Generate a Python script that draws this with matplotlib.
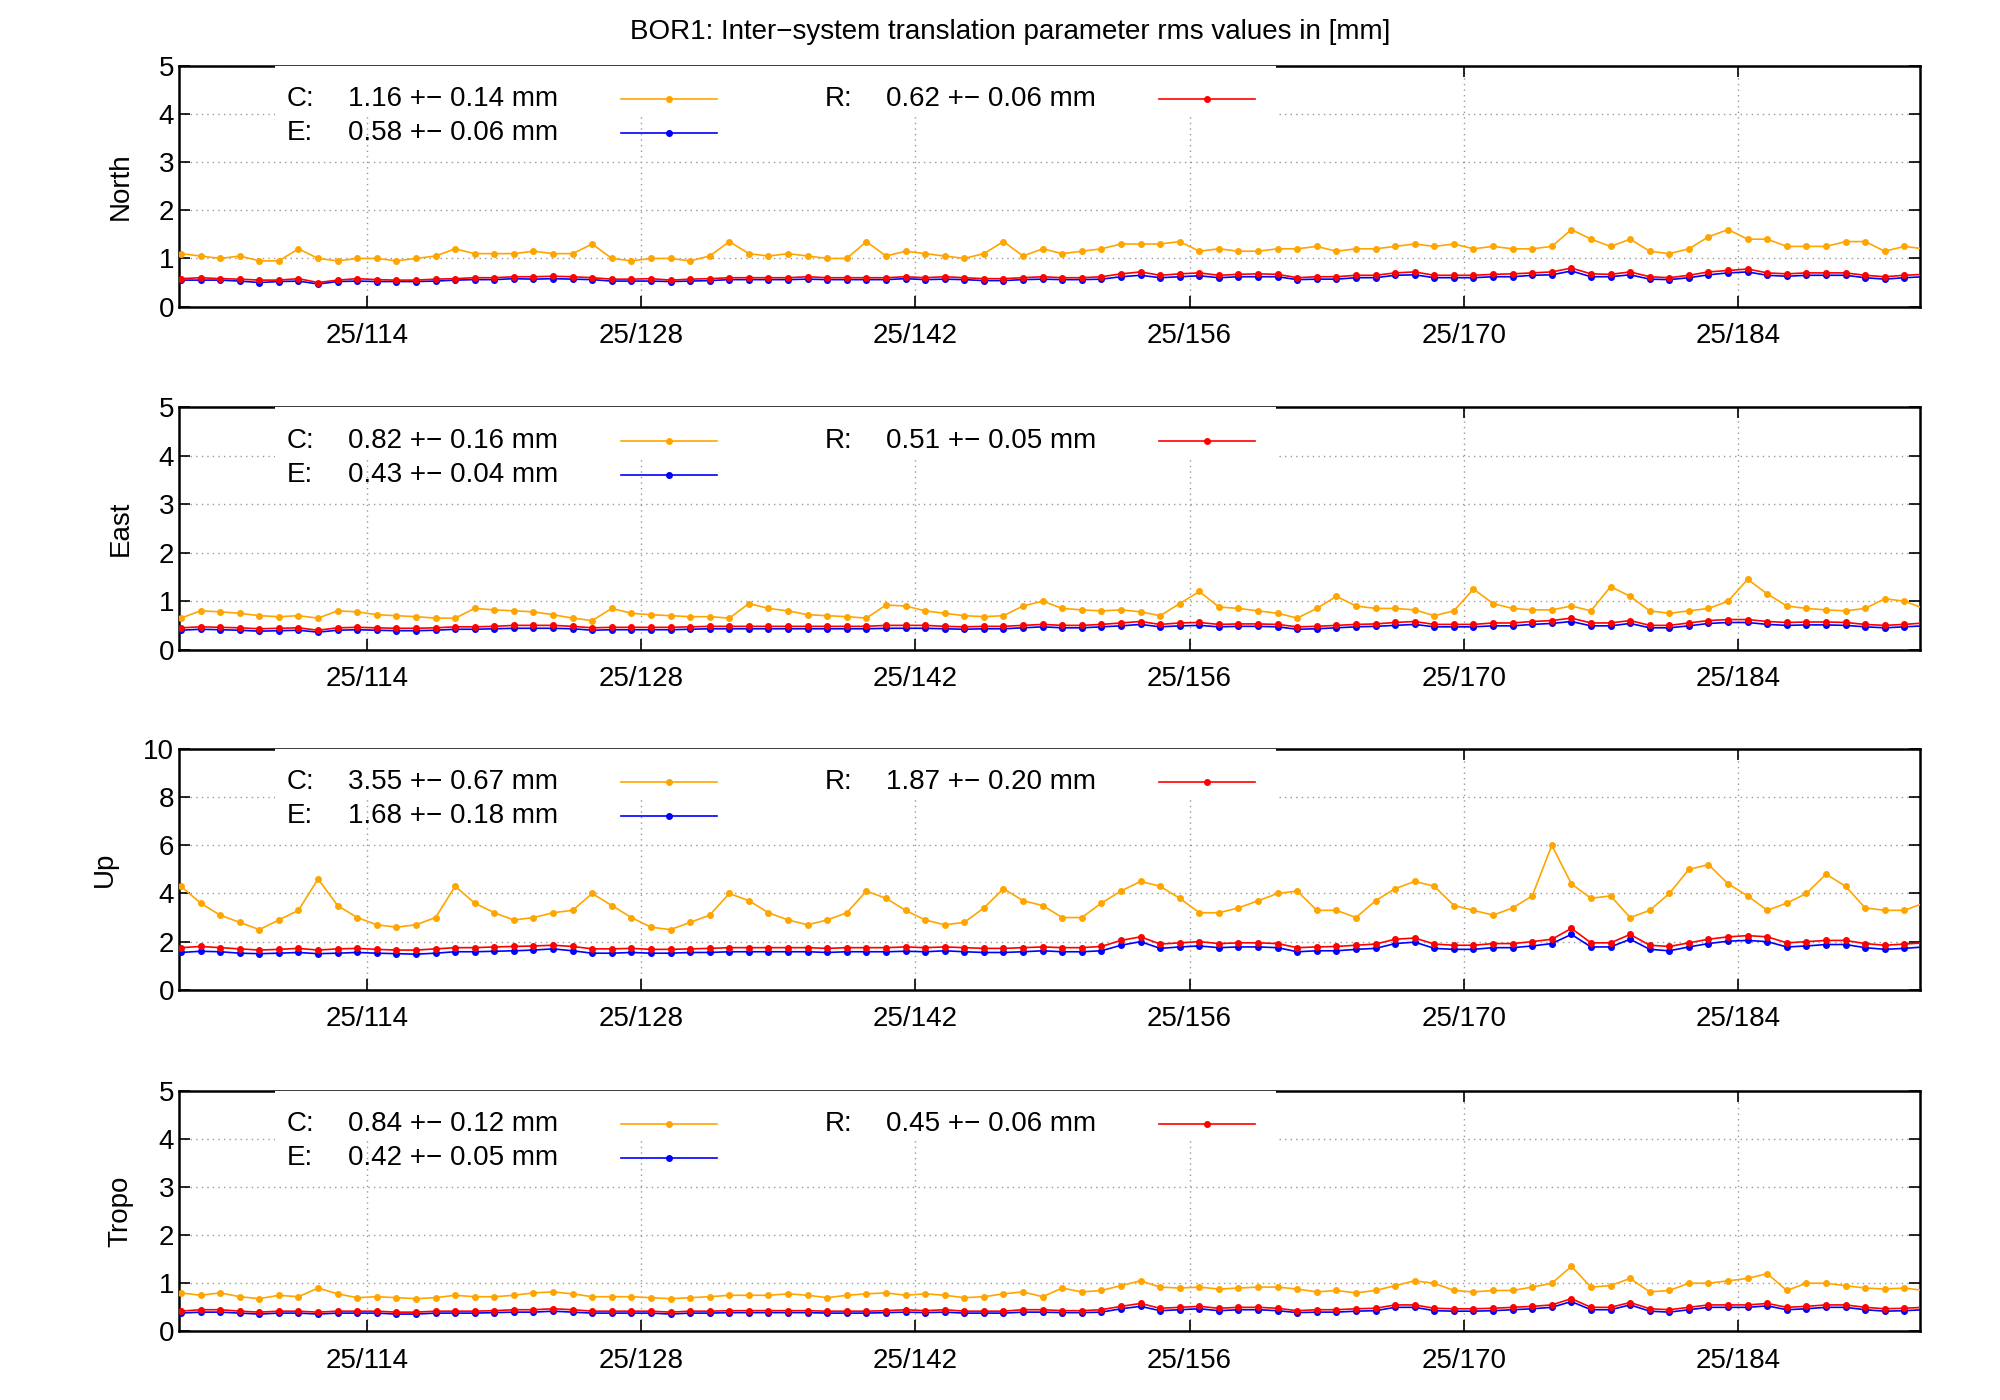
import numpy as np
import matplotlib
matplotlib.use("Agg")
import matplotlib.pyplot as plt
from matplotlib.patches import Rectangle

plt.rcParams["font.family"] = "Liberation Sans"

title = "BOR1: Inter\u2212system translation parameter rms values in [mm]"
panels = ["North", "East", "Up", "Tropo"]
tick_days = [114, 128, 142, 156, 170, 184]
tick_labels = ["25/114", "25/128", "25/142", "25/156", "25/170", "25/184"]
ylims = [5, 5, 10, 5]
stats = {
    "North": ("1.16 +\u2212 0.14 mm", "0.58 +\u2212 0.06 mm", "0.62 +\u2212 0.06 mm"),
    "East": ("0.82 +\u2212 0.16 mm", "0.43 +\u2212 0.04 mm", "0.51 +\u2212 0.05 mm"),
    "Up": ("3.55 +\u2212 0.67 mm", "1.68 +\u2212 0.18 mm", "1.87 +\u2212 0.20 mm"),
    "Tropo": ("0.84 +\u2212 0.12 mm", "0.42 +\u2212 0.05 mm", "0.45 +\u2212 0.06 mm"),
}

north_C = [1.1,1.05,1.0,1.05,0.95,0.95,1.2,1.0,0.95,1.0,1.0,0.95,1.0,1.05,1.2,1.1,1.1,1.1,1.15,1.1,1.1,1.3,1.0,0.95,1.0,1.0,0.95,1.05,1.35,1.1,1.05,1.1,1.05,1.0,1.0,1.35,1.05,1.15,1.1,1.05,1.0,1.1,1.35,1.05,1.2,1.1,1.15,1.2,1.3,1.3,1.3,1.35,1.15,1.2,1.15,1.15,1.2,1.2,1.25,1.15,1.2,1.2,1.25,1.3,1.25,1.3,1.2,1.25,1.2,1.2,1.25,1.6,1.4,1.25,1.4,1.15,1.1,1.2,1.45,1.6,1.4,1.4,1.25,1.25,1.25,1.35,1.35,1.15,1.25,1.2,1.2]
north_R = [0.58,0.6,0.58,0.57,0.55,0.55,0.58,0.5,0.55,0.58,0.56,0.55,0.55,0.57,0.58,0.6,0.6,0.62,0.62,0.63,0.62,0.6,0.57,0.57,0.58,0.55,0.57,0.58,0.6,0.6,0.6,0.6,0.62,0.6,0.6,0.6,0.6,0.62,0.6,0.62,0.6,0.58,0.58,0.6,0.62,0.6,0.6,0.62,0.68,0.72,0.65,0.68,0.7,0.65,0.67,0.68,0.67,0.6,0.62,0.62,0.65,0.65,0.7,0.72,0.65,0.65,0.65,0.67,0.68,0.7,0.72,0.8,0.68,0.67,0.72,0.62,0.6,0.65,0.72,0.75,0.78,0.7,0.68,0.7,0.7,0.7,0.65,0.62,0.65,0.67,0.68]
north_E = [0.55,0.55,0.55,0.53,0.5,0.52,0.53,0.47,0.52,0.53,0.52,0.52,0.52,0.53,0.55,0.56,0.56,0.58,0.57,0.58,0.57,0.56,0.53,0.53,0.53,0.52,0.53,0.54,0.56,0.56,0.56,0.56,0.57,0.56,0.56,0.56,0.56,0.58,0.56,0.57,0.56,0.54,0.54,0.56,0.57,0.56,0.56,0.57,0.62,0.65,0.6,0.62,0.64,0.6,0.62,0.62,0.62,0.56,0.57,0.57,0.6,0.6,0.65,0.66,0.6,0.6,0.6,0.62,0.62,0.65,0.66,0.74,0.62,0.62,0.66,0.57,0.56,0.6,0.66,0.7,0.72,0.65,0.63,0.65,0.65,0.65,0.6,0.57,0.6,0.62,0.63]

east_C = [0.65,0.8,0.78,0.75,0.7,0.68,0.7,0.65,0.8,0.78,0.72,0.7,0.68,0.65,0.65,0.85,0.82,0.8,0.78,0.72,0.65,0.6,0.85,0.75,0.72,0.7,0.68,0.68,0.65,0.95,0.85,0.8,0.72,0.7,0.68,0.65,0.92,0.9,0.8,0.75,0.7,0.68,0.7,0.9,1.0,0.85,0.82,0.8,0.82,0.78,0.7,0.95,1.2,0.88,0.85,0.8,0.75,0.65,0.85,1.1,0.9,0.85,0.85,0.82,0.7,0.8,1.25,0.95,0.85,0.82,0.82,0.9,0.8,1.3,1.1,0.8,0.75,0.8,0.85,1.0,1.45,1.15,0.9,0.85,0.82,0.8,0.85,1.05,1.0,0.85,0.82]
east_R = [0.45,0.47,0.46,0.45,0.43,0.44,0.45,0.4,0.45,0.46,0.45,0.44,0.44,0.45,0.47,0.47,0.48,0.5,0.5,0.5,0.48,0.45,0.46,0.46,0.46,0.46,0.47,0.48,0.48,0.48,0.48,0.48,0.48,0.48,0.48,0.48,0.5,0.5,0.5,0.48,0.47,0.48,0.48,0.5,0.52,0.5,0.5,0.52,0.55,0.58,0.52,0.55,0.56,0.52,0.53,0.53,0.52,0.47,0.48,0.5,0.52,0.53,0.56,0.58,0.52,0.52,0.52,0.55,0.55,0.58,0.6,0.65,0.55,0.55,0.6,0.5,0.5,0.55,0.6,0.62,0.62,0.58,0.56,0.57,0.57,0.56,0.52,0.5,0.52,0.55,0.56]
east_E = [0.4,0.42,0.41,0.4,0.38,0.39,0.4,0.36,0.4,0.41,0.4,0.39,0.39,0.4,0.42,0.42,0.43,0.44,0.44,0.44,0.43,0.4,0.41,0.41,0.41,0.41,0.42,0.43,0.43,0.43,0.43,0.43,0.43,0.43,0.43,0.43,0.44,0.44,0.44,0.43,0.42,0.43,0.43,0.45,0.47,0.45,0.45,0.47,0.49,0.52,0.47,0.49,0.5,0.47,0.48,0.48,0.47,0.42,0.43,0.45,0.47,0.48,0.5,0.52,0.47,0.47,0.47,0.49,0.49,0.52,0.54,0.58,0.49,0.49,0.54,0.45,0.45,0.49,0.54,0.56,0.56,0.52,0.5,0.51,0.51,0.5,0.47,0.45,0.47,0.49,0.5]

up_C = [4.3,3.6,3.1,2.8,2.5,2.9,3.3,4.6,3.5,3.0,2.7,2.6,2.7,3.0,4.3,3.6,3.2,2.9,3.0,3.2,3.3,4.0,3.5,3.0,2.6,2.5,2.8,3.1,4.0,3.7,3.2,2.9,2.7,2.9,3.2,4.1,3.8,3.3,2.9,2.7,2.8,3.4,4.2,3.7,3.5,3.0,3.0,3.6,4.1,4.5,4.3,3.8,3.2,3.2,3.4,3.7,4.0,4.1,3.3,3.3,3.0,3.7,4.2,4.5,4.3,3.5,3.3,3.1,3.4,3.9,6.0,4.4,3.8,3.9,3.0,3.3,4.0,5.0,5.2,4.4,3.9,3.3,3.6,4.0,4.8,4.3,3.4,3.3,3.3,3.6]
up_R = [1.75,1.8,1.75,1.7,1.65,1.68,1.72,1.65,1.7,1.72,1.68,1.65,1.65,1.7,1.75,1.75,1.78,1.8,1.82,1.85,1.8,1.7,1.7,1.72,1.68,1.68,1.7,1.72,1.75,1.75,1.75,1.75,1.75,1.72,1.75,1.75,1.75,1.78,1.75,1.78,1.75,1.72,1.72,1.75,1.78,1.75,1.75,1.8,2.05,2.2,1.9,1.95,2.0,1.92,1.95,1.95,1.92,1.75,1.78,1.8,1.85,1.9,2.1,2.15,1.9,1.85,1.85,1.92,1.92,2.0,2.1,2.55,1.95,1.95,2.3,1.85,1.8,1.95,2.1,2.2,2.25,2.2,1.95,2.0,2.05,2.05,1.92,1.85,1.9,1.95,2.0]
up_E = [1.55,1.6,1.58,1.52,1.5,1.52,1.55,1.5,1.52,1.55,1.52,1.5,1.48,1.52,1.58,1.58,1.6,1.62,1.65,1.7,1.62,1.52,1.52,1.55,1.52,1.52,1.55,1.55,1.58,1.58,1.58,1.58,1.58,1.55,1.58,1.58,1.58,1.6,1.58,1.62,1.58,1.55,1.55,1.58,1.62,1.58,1.58,1.62,1.85,2.0,1.72,1.78,1.82,1.75,1.78,1.78,1.75,1.58,1.62,1.62,1.68,1.72,1.92,1.98,1.72,1.68,1.68,1.75,1.75,1.82,1.92,2.3,1.78,1.78,2.1,1.68,1.62,1.78,1.92,2.02,2.05,2.0,1.78,1.82,1.88,1.88,1.75,1.68,1.72,1.78,1.85]

tropo_C = [0.8,0.75,0.8,0.72,0.68,0.75,0.72,0.9,0.78,0.7,0.72,0.7,0.68,0.7,0.75,0.72,0.72,0.75,0.8,0.82,0.78,0.72,0.72,0.72,0.7,0.68,0.7,0.72,0.75,0.75,0.75,0.78,0.75,0.7,0.75,0.78,0.8,0.75,0.78,0.75,0.7,0.72,0.78,0.82,0.72,0.9,0.82,0.85,0.95,1.05,0.92,0.9,0.92,0.88,0.9,0.92,0.92,0.88,0.82,0.85,0.8,0.85,0.95,1.05,1.0,0.85,0.82,0.85,0.85,0.92,1.0,1.35,0.92,0.95,1.1,0.82,0.85,1.0,1.0,1.05,1.1,1.2,0.85,1.0,1.0,0.95,0.9,0.88,0.9,0.85,0.95]
tropo_R = [0.42,0.45,0.45,0.42,0.4,0.42,0.42,0.4,0.42,0.42,0.42,0.4,0.4,0.42,0.42,0.42,0.43,0.45,0.45,0.47,0.45,0.42,0.42,0.42,0.42,0.4,0.42,0.42,0.43,0.43,0.43,0.43,0.43,0.42,0.42,0.42,0.43,0.45,0.43,0.45,0.42,0.42,0.42,0.45,0.45,0.43,0.43,0.45,0.52,0.58,0.48,0.5,0.52,0.48,0.5,0.5,0.48,0.43,0.45,0.45,0.47,0.48,0.55,0.55,0.48,0.47,0.47,0.48,0.5,0.52,0.55,0.68,0.5,0.5,0.6,0.47,0.45,0.5,0.55,0.55,0.55,0.58,0.5,0.52,0.55,0.55,0.5,0.47,0.48,0.5,0.52]
tropo_E = [0.38,0.4,0.4,0.38,0.36,0.38,0.38,0.36,0.38,0.38,0.38,0.36,0.36,0.38,0.38,0.38,0.39,0.4,0.4,0.42,0.4,0.38,0.38,0.38,0.38,0.36,0.38,0.38,0.39,0.39,0.39,0.39,0.39,0.38,0.38,0.38,0.39,0.4,0.39,0.4,0.38,0.38,0.38,0.4,0.4,0.39,0.39,0.4,0.47,0.52,0.43,0.45,0.47,0.43,0.45,0.45,0.43,0.39,0.4,0.4,0.42,0.43,0.5,0.5,0.43,0.42,0.42,0.43,0.45,0.47,0.5,0.62,0.45,0.45,0.55,0.42,0.4,0.45,0.5,0.5,0.5,0.53,0.45,0.47,0.5,0.5,0.45,0.42,0.43,0.45,0.47]

series = {
    "North": (north_C, north_E, north_R),
    "East": (east_C, east_E, east_R),
    "Up": (up_C, up_E, up_R),
    "Tropo": (tropo_C, tropo_E, tropo_R),
}

ORANGE, BLUE, RED = "#FFA500", "#0000FF", "#FF0000"
fig = plt.figure(figsize=(20, 14), dpi=100)
fig.text(0.505, 0.977, title, ha="center", va="center", fontsize=20)
rects = [(0.953, 0.781), (0.709, 0.536), (0.465, 0.293), (0.221, 0.049)]
L, R_ = 0.0895, 0.96
for name, (top, bot), ymax in zip(panels, rects, ylims):
    ax = fig.add_axes([L, bot, R_ - L, top - bot])
    C, E, Rr = series[name]
    n = min(len(C), len(E), len(Rr))
    days = np.arange(n) + 104.5
    ax.plot(days, C[:n], color=ORANGE, lw=1.2, marker="o", ms=4, zorder=3)
    ax.plot(days, E[:n], color=BLUE, lw=1.2, marker="o", ms=4, zorder=3)
    ax.plot(days, Rr[:n], color=RED, lw=1.2, marker="o", ms=4, zorder=3)
    ax.set_xlim(104.4, 193.3)
    ax.set_ylim(0, ymax)
    ax.set_yticks(np.arange(0, ymax + 0.1, 1 if ymax == 5 else 2))
    ax.set_xticks(tick_days)
    ax.set_xticklabels(tick_labels)
    ax.tick_params(labelsize=20, direction="in", length=8, width=1.2, top=True, right=True)
    ax.tick_params(axis="x", pad=12)
    ax.grid(True, color="#999999", linestyle=(0, (1, 3)), lw=1)
    for s in ax.spines.values():
        s.set_linewidth(1.8)
    ax.set_ylabel(name, fontsize=20, labelpad=18)
    ax.add_patch(Rectangle((0.055, 0.79), 0.575, 0.21, transform=ax.transAxes,
                           facecolor="white", edgecolor="none", zorder=4))
    sC, sE, sR = stats[name]
    for lab, txt, col, x0, x1, y in [("C:", sC, ORANGE, 0.062, 0.254, 0.862),
                                     ("E:", sE, BLUE, 0.062, 0.254, 0.72),
                                     ("R:", sR, RED, 0.371, 0.563, 0.862)]:
        ax.text(x0, y, lab, transform=ax.transAxes, fontsize=20, va="center", zorder=5)
        ax.text(x0 + 0.035, y, txt, transform=ax.transAxes, fontsize=20, va="center", zorder=5)
        ax.plot([x1, x1 + 0.055], [y, y], transform=ax.transAxes, color=col, lw=1.2, zorder=5)
        ax.plot([x1 + 0.0275], [y], transform=ax.transAxes, color=col, marker="o", ms=4, zorder=5)

fig.savefig("out.png", dpi=100)
